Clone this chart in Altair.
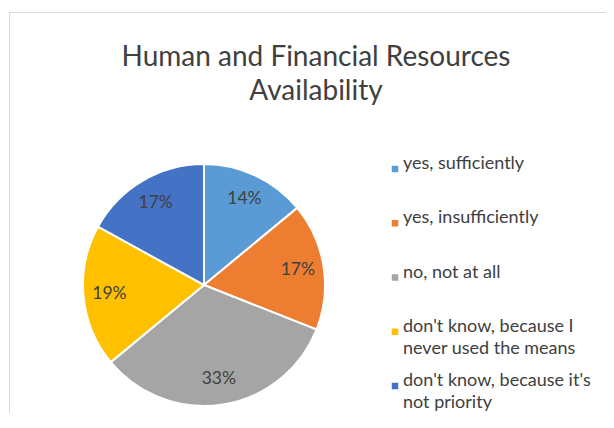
import altair as alt
import pandas as pd

categories = ["yes, sufficiently", "yes, insufficiently", "no, not at all",
              "don't know, because I never used the means",
              "don't know, because it's not priority"]
legend_labels = ["yes, sufficiently", "yes, insufficiently", "no, not at all",
                 "don't know, because I\nnever used the means",
                 "don't know, because it's\nnot priority"]
percents = [14, 17, 33, 19, 17]
colors = ["#5B9BD5", "#ED7D31", "#A5A5A5", "#FFC000", "#4472C4"]

df = pd.DataFrame({
    "cat": categories,
    "leg": legend_labels,
    "pct": percents,
    "idx": list(range(len(categories))),
})
df["label"] = df["pct"].astype(str) + "%"

FONT = "Lato"
TXT = "#404040"
CX, CY, R = 196, 277, 121

color = alt.Color("cat:N", scale=alt.Scale(domain=categories, range=colors), legend=None)
base = alt.Chart(df)

border = alt.Chart(pd.DataFrame({"a": [0]})).mark_rect(
    fill="transparent", stroke="#D9D9D9", strokeWidth=1
).encode(x=alt.value(1.5), x2=alt.value(900), y=alt.value(4.5), y2=alt.value(900))

pie = base.mark_arc(outerRadius=R, stroke="white", strokeWidth=2).encode(
    theta=alt.Theta("pct:Q", stack=True),
    color=color,
    order=alt.Order("idx:Q"),
    x=alt.value(CX), y=alt.value(CY),
)

labels = base.mark_text(radius=95, fontSize=17.5, font=FONT, color=TXT).encode(
    theta=alt.Theta("pct:Q", stack=True),
    text=alt.Text("label:N"),
    order=alt.Order("idx:Q"),
    x=alt.value(CX), y=alt.value(CY),
)

ys = alt.Y("idx:Q", scale=alt.Scale(domain=[0, 4], range=[161, 378]), axis=None)
leg_sym = base.mark_square(size=42, opacity=1).encode(
    x=alt.value(387), y=ys, color=color
)
leg_txt = base.mark_text(align="left", baseline="alphabetic", dy=0, fontSize=18,
                         font=FONT, color=TXT, lineBreak="\n", lineHeight=22).encode(
    x=alt.value(395), y=alt.Y("idx:Q", scale=alt.Scale(domain=[0, 4], range=[169, 386]), axis=None),
    text=alt.Text("leg:N")
)

chart = alt.layer(border, pie, labels, leg_sym, leg_txt).properties(
    width=598, height=405,
    autosize=alt.AutoSizeParams(type="none"),
    padding={"left": 0, "top": 0, "right": 0, "bottom": 0},
    title=alt.TitleParams(["Human and Financial Resources", "Availability"],
                          font=FONT, fontSize=28, fontWeight="normal", color=TXT,
                          anchor="middle", baseline="alphabetic", offset=0,
                          dx=9, dy=120, lineHeight=34),
).configure_view(strokeWidth=0)

chart.save("out.html", embed_options={"renderer": "svg", "actions": False})
